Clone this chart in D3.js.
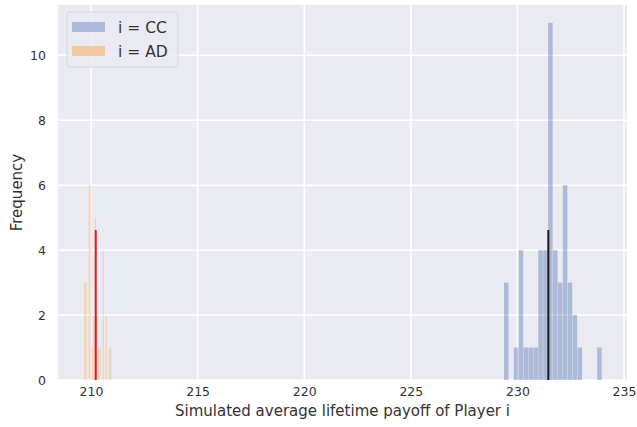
<!DOCTYPE html>
<html>
<head>
<meta charset="utf-8">
<script src="https://cdn.jsdelivr.net/npm/d3@7"></script>
<style>
  body { margin: 0; background: #ffffff; }
  text { font-family: "DejaVu Sans", sans-serif; }
</style>
</head>
<body>
<div class="plot"></div>
<script>
// GLOBAL VARIABLES
var w = 637;
var h = 427;
var margin = { top: 5, right: 10, bottom: 47, left: 58 };

// DATA
var ccBinStart = 229.37;
var ccBinWidth = 0.23;
var ccCounts = [3, 0, 1, 4, 1, 1, 1, 4, 4, 11, 4, 3, 6, 3, 2, 1, 0, 0, 0, 1];
var adBinStart = 209.6;
var adBinWidth = 0.0725;
var adCounts = [0, 3, 3, 0, 6, 6, 1, 2, 5, 2, 1, 1, 0, 4, 0, 2, 0, 1, 1, 0];
var means = [231.45, 210.22];
var meanColors = ["#1a1a1a", "#e3141e"];
var seriesNames = ["i = CC", "i = AD"];
var colors = ["#4c72b0", "#ff972a"];
var xTicks = [210, 215, 220, 225, 230, 235];
var yTicks = [0, 2, 4, 6, 8, 10];
var xDomain = [208.45, 235.14];
var yDomain = [0, 11.55];

var toBins = function (start, width, counts) {
  return counts.map(function (c, i) {
    return { x0: start + i * width, x1: start + (i + 1) * width, count: c };
  });
};
var series = [
  toBins(ccBinStart, ccBinWidth, ccCounts),
  toBins(adBinStart, adBinWidth, adCounts)
];

var svg = d3.select(".plot").append("svg").attr("width", w).attr("height", h);

// SCALES
var xScale = d3.scaleLinear()
  .domain(xDomain)
  .range([margin.left, w - margin.right]);
var yScale = d3.scaleLinear()
  .domain(yDomain)
  .range([h - margin.bottom, margin.top]);

// BACKGROUND
svg.append("rect")
  .attr("x", margin.left)
  .attr("y", margin.top)
  .attr("width", w - margin.left - margin.right)
  .attr("height", h - margin.top - margin.bottom)
  .attr("fill", "#eaeaf2");

// GRID
svg.append("g")
  .selectAll("line")
  .data(xTicks)
  .enter()
  .append("line")
  .attr("x1", function (d) { return xScale(d); })
  .attr("x2", function (d) { return xScale(d); })
  .attr("y1", margin.top)
  .attr("y2", h - margin.bottom)
  .attr("stroke", "#ffffff")
  .attr("stroke-width", 1.5);
svg.append("g")
  .selectAll("line")
  .data(yTicks)
  .enter()
  .append("line")
  .attr("x1", margin.left)
  .attr("x2", w - margin.right)
  .attr("y1", function (d) { return yScale(d); })
  .attr("y2", function (d) { return yScale(d); })
  .attr("stroke", "#ffffff")
  .attr("stroke-width", 1.5);

// BARS
var groups = svg.selectAll(".bar-group")
  .data(series)
  .enter()
  .append("g")
  .attr("class", "bar-group")
  .attr("fill", function (d, i) { return colors[i]; })
  .attr("fill-opacity", function (d, i) { return i === 0 ? 0.4 : 0.3; });

groups.selectAll("rect")
  .data(function (d) { return d.filter(function (b) { return b.count > 0; }); })
  .enter()
  .append("rect")
  .attr("x", function (d) { return xScale(d.x0); })
  .attr("y", function (d) { return yScale(d.count); })
  .attr("width", function (d) { return Math.max(1, xScale(d.x1) - xScale(d.x0) - 0.4); })
  .attr("height", function (d) { return yScale(0) - yScale(d.count); });

// MEAN LINES (40% of the axes height)
svg.selectAll(".mean")
  .data(means)
  .enter()
  .append("line")
  .attr("class", "mean")
  .attr("x1", function (d) { return xScale(d); })
  .attr("x2", function (d) { return xScale(d); })
  .attr("y1", yScale(0))
  .attr("y2", yScale(0) - 0.4 * (yScale(0) - yScale(yDomain[1])))
  .attr("stroke", function (d, i) { return meanColors[i]; })
  .attr("stroke-width", 2);

// AXES
var xAxis = d3.axisBottom(xScale).tickValues(xTicks).tickSize(0).tickPadding(7);
var yAxis = d3.axisLeft(yScale).tickValues(yTicks).tickSize(0).tickPadding(12);

svg.append("g")
  .attr("class", "axis x")
  .attr("transform", "translate(0," + (h - margin.bottom) + ")")
  .call(xAxis);
svg.append("g")
  .attr("class", "axis y")
  .attr("transform", "translate(" + margin.left + ",0)")
  .call(yAxis);

svg.selectAll(".axis .domain").remove();
svg.selectAll(".axis text")
  .attr("font-family", "DejaVu Sans, sans-serif")
  .attr("font-size", "12.5px")
  .attr("fill", "#333333");

// AXIS LABELS
svg.append("text")
  .attr("x", (margin.left + w - margin.right) / 2)
  .attr("y", h - 11)
  .attr("font-size", "15px")
  .attr("fill", "#333333")
  .style("text-anchor", "middle")
  .text("Simulated average lifetime payoff of Player i");

svg.append("text")
  .attr("transform", "rotate(-90)")
  .attr("x", -(margin.top + h - margin.bottom) / 2)
  .attr("y", 22)
  .attr("font-size", "15px")
  .attr("fill", "#333333")
  .style("text-anchor", "middle")
  .text("Frequency");

// LEGEND
var legend = svg.append("g").attr("transform", "translate(67,12)");
legend.append("rect")
  .attr("width", 111)
  .attr("height", 55)
  .attr("rx", 3)
  .attr("fill", "#eaeaf2")
  .attr("fill-opacity", 0.8)
  .attr("stroke", "#d4d4dc");
var items = legend.selectAll(".item")
  .data(seriesNames)
  .enter()
  .append("g")
  .attr("class", "item")
  .attr("transform", function (d, i) { return "translate(5," + (10 + i * 24) + ")"; });
items.append("rect")
  .attr("width", 33)
  .attr("height", 10)
  .attr("fill", function (d, i) { return colors[i]; })
  .attr("fill-opacity", 0.4);
items.append("text")
  .attr("x", 46)
  .attr("y", 11)
  .attr("font-size", "15.5px")
  .attr("fill", "#333333")
  .text(function (d) { return d; });
</script>
</body>
</html>
